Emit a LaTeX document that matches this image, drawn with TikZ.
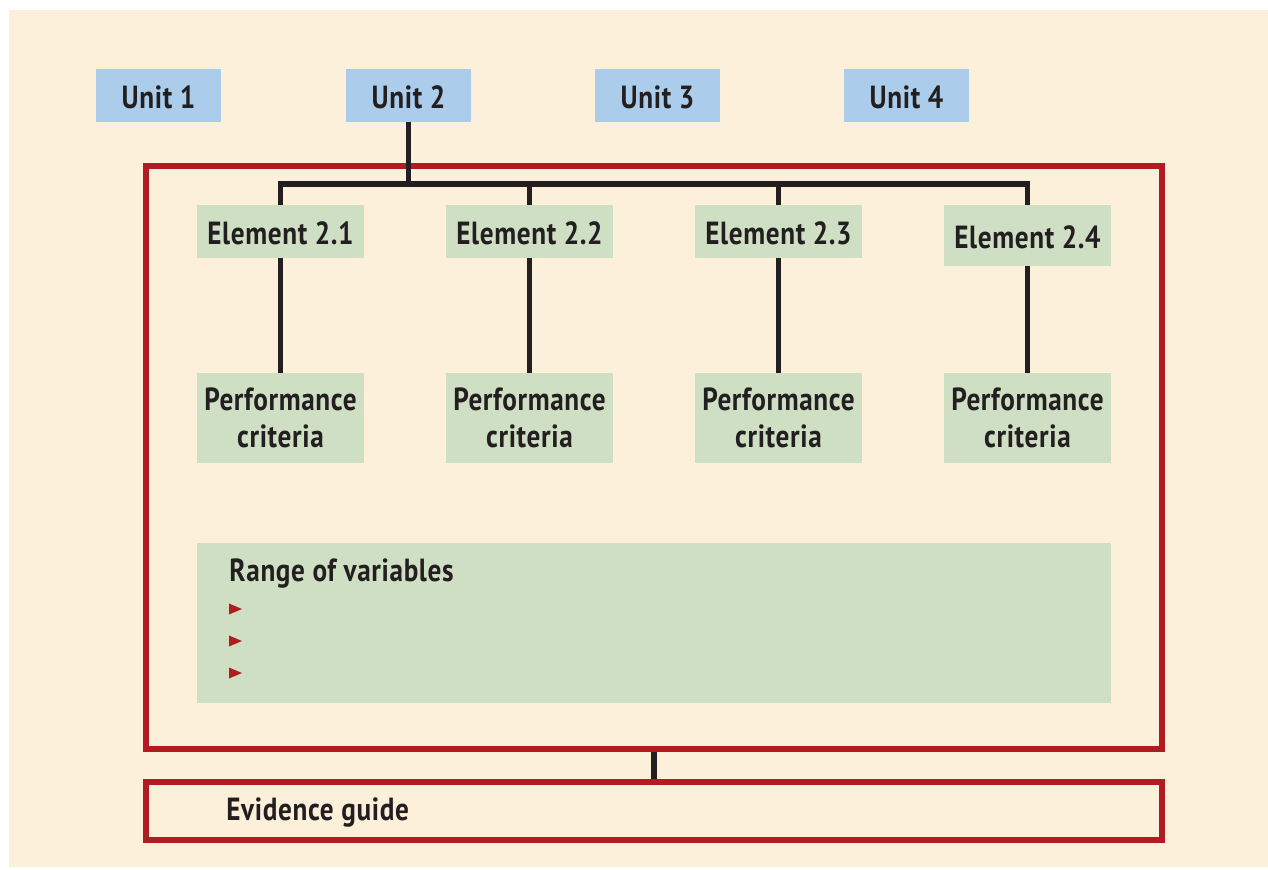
\documentclass[tikz,border=0pt]{standalone}
\usepackage{fontspec}
\setmainfont{PT Sans}[FakeStretch=0.85, LetterSpace=2]
\definecolor{beige}{HTML}{FCF0DA}
\definecolor{unitblue}{HTML}{ABCDEB}
\definecolor{elemgreen}{HTML}{CFDFC3}
\definecolor{boxred}{HTML}{B01C22}
\definecolor{ink}{HTML}{231F20}
\begin{document}
\begin{tikzpicture}[x=0.5pt,y=-0.5pt,
  lbl/.style={font=\bfseries\fontsize{16}{18.5}\selectfont, text=ink},
  unitbox/.style={lbl, fill=unitblue, minimum width=62.5pt, minimum height=26.5pt, inner sep=0pt, text depth=0pt, text height=13pt},
  elembox/.style={lbl, fill=elemgreen, minimum width=83.5pt, minimum height=26.5pt, inner sep=0pt, text depth=0pt, text height=13pt},
  perfbox/.style={lbl, fill=elemgreen, minimum width=83.5pt, minimum height=45pt, inner sep=0pt, align=center},
  redframe/.style={draw=boxred, line width=3pt, inner sep=0pt},
  conn/.style={draw=ink, line width=2.9pt},
  bullet/.style={fill=boxred}
]
\useasboundingbox (0,0) rectangle (1268,870);
\fill[white] (0,0) rectangle (1268,870);
\fill[beige] (9,10) rectangle (1268,867);

% frames
\node[redframe, minimum width=508pt, minimum height=291.5pt] (main) at (654,457.5) {};
\node[redframe, minimum width=508pt, minimum height=29pt] (ev) at (654,811) {};
\node[lbl, anchor=west, inner sep=0pt] (evtext) at (226,813) {Evidence guide};

% units
\node[unitbox] (u1) at (158.5,95.5) {Unit 1};
\node[unitbox] (u2) at (408.5,95.5) {Unit 2};
\node[unitbox] (u3) at (657.5,95.5) {Unit 3};
\node[unitbox] (u4) at (906.5,95.5) {Unit 4};

% elements
\node[elembox] (e1) at (280.5,231.5) {Element 2.1};
\node[elembox] (e2) at (529.5,231.5) {Element 2.2};
\node[elembox] (e3) at (778.5,231.5) {Element 2.3};
\node[elembox, minimum height=30.5pt] (e4) at (1027.5,235.5) {Element 2.4};

% performance criteria
\node[perfbox] (p1) at (280.5,418) {Performance\\criteria};
\node[perfbox] (p2) at (529.5,418) {Performance\\criteria};
\node[perfbox] (p3) at (778.5,418) {Performance\\criteria};
\node[perfbox] (p4) at (1027.5,418) {Performance\\criteria};

% range of variables
\node[fill=elemgreen, minimum width=457pt, minimum height=80pt, inner sep=0pt] (range) at (654,623) {};
\node[lbl, anchor=base west, inner sep=0pt] (rtitle) at (229,582) {Range of variables};
\foreach \yy in {609,641,673}{
  \fill[bullet] (229,\yy-5.5) -- (242,\yy) -- (229,\yy+5.5) -- cycle;
}

% connectors
\coordinate (bus) at (408,184);
\draw[conn] (u2.south) -- (u2.south |- bus);
\draw[conn] (e1.north) -- (e1.north |- bus) -- (e4.north |- bus) -- (e4.north);
\draw[conn] (e2.north) -- (e2.north |- bus);
\draw[conn] (e3.north) -- (e3.north |- bus);
\draw[conn] (e1.south) -- (p1.north);
\draw[conn] (e2.south) -- (p2.north);
\draw[conn] (e3.south) -- (p3.north);
\draw[conn] (e4.south) -- (p4.north);
\draw[conn] (main.south) -- (ev.north);
\end{tikzpicture}
\end{document}
